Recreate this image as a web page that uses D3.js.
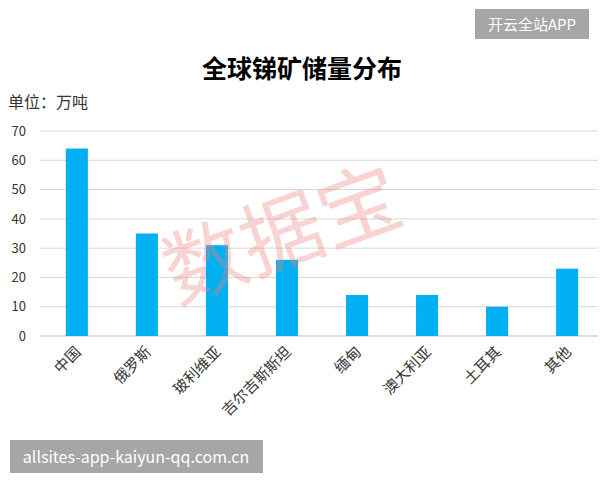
<style>
body { margin: 0; background: #fff; }
text { font-family: "Noto Sans CJK SC", sans-serif; }
.axis text { font-size: 13px; fill: #333; }
</style>
<svg class="chart"></svg>
<script src="https://d3js.org/d3.v7.min.js"></script>
<script>
var categories = ["中国", "俄罗斯", "玻利维亚", "吉尔吉斯斯坦", "缅甸", "澳大利亚", "土耳其", "其他"];
var values = [64, 35, 31, 26, 14, 14, 10, 23];
var yTicks = [0, 10, 20, 30, 40, 50, 60, 70];

var width = 600, height = 480;
var svg = d3.select(".chart").attr("width", width).attr("height", height);

var x = d3.scaleBand().domain(categories).range([42, 602]).paddingInner(0.685).paddingOuter(0.34);
var y = d3.scaleLinear().domain([0, 70]).range([336, 131]);

// gridlines
svg.append("g").selectAll("line").data(yTicks).enter().append("line")
  .attr("x1", 40).attr("x2", 598)
  .attr("y1", d => y(d)).attr("y2", d => y(d))
  .attr("stroke", d => d === 0 ? "#bbb" : "#d9d9d9").attr("stroke-width", 1);

// y axis labels
var ya = svg.append("g").attr("class", "axis").attr("transform", "translate(26,0)")
  .call(d3.axisLeft(y).tickValues(yTicks).tickSize(0).tickPadding(0));
ya.select(".domain").remove();
ya.selectAll("text").attr("font-family", "Liberation Sans, Arial, sans-serif");

// bars
svg.append("g").selectAll("rect").data(values).enter().append("rect")
  .attr("x", (d, i) => x(categories[i]))
  .attr("width", x.bandwidth())
  .attr("y", d => y(d))
  .attr("height", d => y(0) - y(d))
  .attr("fill", "#00b0f0");

// x labels
var xa = svg.append("g").attr("class", "axis").attr("transform", "translate(0,336)")
  .call(d3.axisBottom(x).tickSize(0).tickPadding(0));
xa.select(".domain").remove();
xa.selectAll("text")
  .style("font-size", "15px")
  .attr("text-anchor", "end")
  .attr("dy", 0)
  .attr("transform", "translate(5,17) rotate(-45)");

// title
svg.append("text").attr("x", 302).attr("y", 78).attr("text-anchor", "middle")
  .style("font-size", "25px").style("font-weight", "bold").text("全球锑矿储量分布");
svg.append("text").attr("x", 8).attr("y", 108).style("font-size", "16px").attr("fill", "#333").text("单位：万吨");

// watermark
svg.append("text").attr("transform", "translate(292,262) rotate(-20)").attr("text-anchor", "middle")
  .style("font-size", "82px").attr("fill", "#f08080").attr("opacity", 0.35).text("数据宝");

// corner labels
svg.append("rect").attr("x", 475).attr("y", 9).attr("width", 114).attr("height", 30).attr("fill", "#a6a6a6");
svg.append("text").attr("x", 532).attr("y", 30).attr("text-anchor", "middle").attr("fill", "#fff")
  .style("font-size", "15px").text("开云全站APP");
svg.append("rect").attr("x", 10).attr("y", 440).attr("width", 253).attr("height", 33).attr("fill", "#a6a6a6");
svg.append("text").attr("x", 136).attr("y", 463).attr("text-anchor", "middle").attr("fill", "#fff")
  .style("font-size", "16px").text("allsites-app-kaiyun-qq.com.cn");
</script>
